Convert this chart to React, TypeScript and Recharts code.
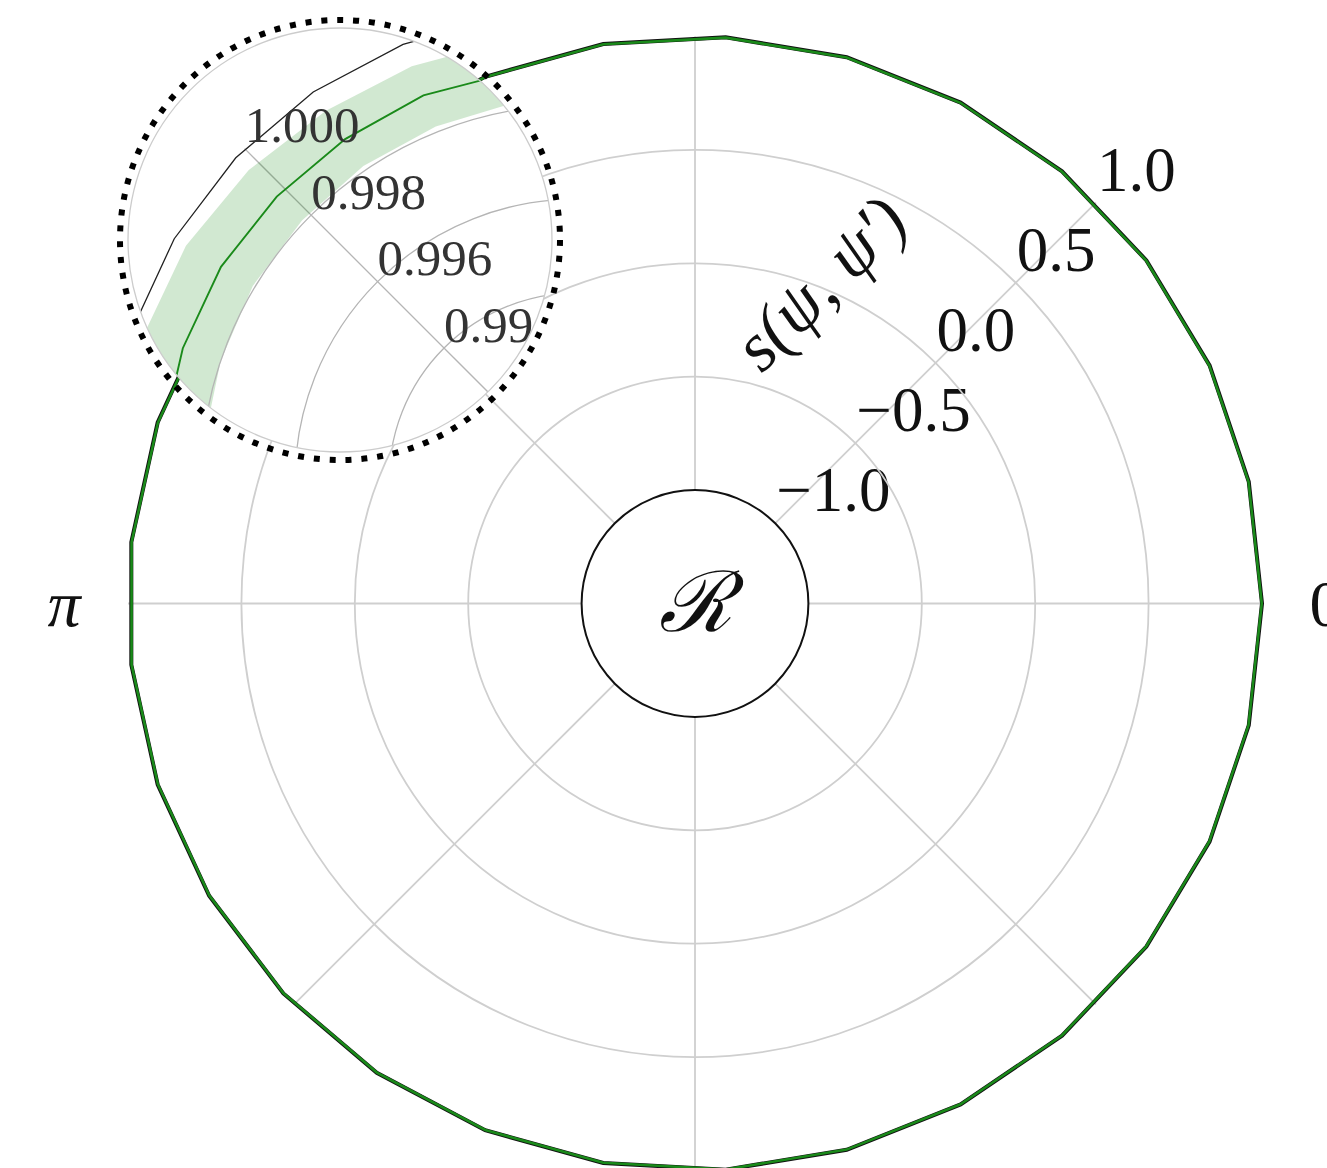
import { RadarChart, Radar, PolarGrid, PolarAngleAxis, PolarRadiusAxis } from "recharts";

// sample angles in degrees (29 points around the full turn)
const theta = [
  0, 12.41, 24.83, 37.24, 49.66, 62.07, 74.48, 86.9, 99.31, 111.72, 124.14, 136.55, 148.97, 161.38, 173.79,
  186.21, 198.62, 211.03, 223.45, 235.86, 248.28, 260.69, 273.1, 285.52, 297.93, 310.34, 322.76, 335.17, 347.59,
];

// exact similarity
const exact = [1, 1, 1, 1, 1, 1, 1, 1, 1, 1, 1, 1, 1, 1, 1, 1, 1, 1, 1, 1, 1, 1, 1, 1, 1, 1, 1, 1, 1];

// estimated similarity and its spread
const estimate = [
  0.9989, 0.99893, 0.99888, 0.99885, 0.9988, 0.99878, 0.99881, 0.99879, 0.9988, 0.99883, 0.99879, 0.9988,
  0.99884, 0.99885, 0.99887, 0.99884, 0.99882, 0.99886, 0.99889, 0.99891, 0.99887, 0.99884, 0.99886, 0.99889,
  0.99892, 0.9989, 0.99887, 0.99889, 0.99891,
];
const bandLow = [
  0.99812, 0.99815, 0.99811, 0.99809, 0.99812, 0.99814, 0.99815, 0.99816, 0.99816, 0.99812, 0.9981, 0.99806,
  0.99805, 0.998, 0.99798, 0.99801, 0.99804, 0.99806, 0.99809, 0.99811, 0.99808, 0.99806, 0.99808, 0.9981,
  0.99813, 0.99812, 0.99809, 0.9981, 0.99813,
];
const bandHigh = [
  0.99966, 0.99969, 0.99964, 0.99961, 0.99956, 0.99952, 0.9995, 0.99949, 0.99948, 0.9995, 0.99952, 0.99962,
  0.99971, 0.99973, 0.9997, 0.99966, 0.99961, 0.99964, 0.99968, 0.99971, 0.99966, 0.99962, 0.99964, 0.99967,
  0.99971, 0.99969, 0.99965, 0.99967, 0.9997,
];

// radial ticks (a ring is drawn for each one below the rim)
const mainTicks = [-1, -0.5, 0, 0.5, 1];
const lensTicks = [0.994, 0.996, 0.998, 1];

const gridAngles = [0, 45, 90, 135, 180, 225, 270, 315];
const thetaLabels: Record<number, string> = { 0: "0", 180: "\u03c0" };

const rows = theta.map((t, i) => ({
  theta: t,
  exact: exact[i],
  estimate: estimate[i],
  band: [bandLow[i], bandHigh[i]],
}));

const W = 1327;
const H = 1168;
const CX = 695;
const CY = 603.5;
const SERIF = '"Liberation Serif", "DejaVu Serif", serif';

// magnified view near the top-left of the curve
const LENS_X = 340;
const LENS_Y = 240;
const LENS_R = 212;
const LENS_CX = 577;
const LENS_CY = 481;

function ThetaTick({ payload }: any) {
  const label = thetaLabels[payload.value];
  if (label === undefined) return null;
  const rad = (payload.value * Math.PI) / 180;
  return (
    <text
      x={CX + Math.cos(rad) * 631}
      y={CY + 22}
      textAnchor="middle"
      fontFamily={SERIF}
      fontStyle={payload.value ? "italic" : "normal"}
      fontSize={66}
      fill="#111"
    >
      {label}
    </text>
  );
}

function MainRadiusTick({ x, y, payload }: any) {
  const v = payload.value;
  const r = Math.hypot(x - CX, y - CY);
  const txt = (v < 0 ? "\u2212" : "") + Math.abs(v).toFixed(1);
  const label = (
    <text x={x + 1} y={y - 12} fontFamily={SERIF} fontSize={63} fill="#111">
      {txt}
    </text>
  );
  if (v >= 1) return label;
  if (Math.abs(v + 1) > 1e-9) {
    return (
      <g>
        <circle cx={CX} cy={CY} r={r} fill="none" stroke="#cfcfcf" strokeWidth={1.8} />
        {label}
      </g>
    );
  }
  // the innermost ring holds the region symbol
  return (
    <g>
      <circle cx={CX} cy={CY} r={r} fill="#fff" stroke="#111" strokeWidth={2} />
      <text x={CX} y={CY + 27} textAnchor="middle" fontFamily={SERIF} fontStyle="italic" fontSize={84} fill="#111">
        {"\u211b"}
      </text>
      {label}
    </g>
  );
}

function LensRadiusTick({ x, y, payload }: any) {
  const v = payload.value;
  const r = Math.hypot(x - LENS_CX, y - LENS_CY);
  return (
    <g>
      {v < 1 && <circle cx={LENS_CX} cy={LENS_CY} r={r} fill="none" stroke="#b5b5b5" strokeWidth={1.3} />}
      <text x={x} y={y - 6.5} fontFamily={SERIF} fontSize={51} fill="#333">
        {v.toFixed(3)}
      </text>
    </g>
  );
}

export default function App() {
  return (
    <div style={{ position: "absolute", left: 0, top: 0, width: W, height: H, overflow: "hidden", background: "#fff" }}>
      <RadarChart
        width={W}
        height={H}
        data={rows}
        cx={CX}
        cy={CY}
        innerRadius={0}
        outerRadius={567}
        startAngle={0}
        endAngle={360}
        margin={{ top: 0, right: 0, bottom: 0, left: 0 }}
      >
        <PolarGrid gridType="circle" polarAngles={gridAngles} polarRadius={[]} stroke="#cfcfcf" strokeWidth={1.8} />
        <PolarAngleAxis
          dataKey="theta"
          type="number"
          domain={[0, 360]}
          tickCount={5}
          axisLine={false}
          tickLine={false}
          tick={ThetaTick}
        />
        <PolarRadiusAxis
          angle={45}
          type="number"
          domain={[-1.5, 1]}
          ticks={mainTicks}
          axisLine={false}
          tickLine={false}
          tick={MainRadiusTick}
        />
        <Radar dataKey="exact" stroke="#111" strokeWidth={4} fill="none" fillOpacity={0} dot={false} isAnimationActive={false} />
        <Radar dataKey="estimate" stroke="#1a8a1a" strokeWidth={2.6} fill="none" fillOpacity={0} dot={false} isAnimationActive={false} />
      </RadarChart>

      <div
        style={{
          position: "absolute",
          left: 0,
          top: 0,
          width: W,
          height: H,
          background: "#fff",
          clipPath: `circle(${LENS_R}px at ${LENS_X}px ${LENS_Y}px)`,
        }}
      >
        <RadarChart
          width={W}
          height={H}
          data={rows}
          cx={LENS_CX}
          cy={LENS_CY}
          innerRadius={0}
          outerRadius={470}
          startAngle={0}
          endAngle={360}
          margin={{ top: 0, right: 0, bottom: 0, left: 0 }}
        >
          <PolarGrid gridType="circle" polarAngles={gridAngles} polarRadius={[]} stroke="#b5b5b5" strokeWidth={1.3} />
          <PolarAngleAxis dataKey="theta" type="number" domain={[0, 360]} axisLine={false} tickLine={false} tick={false} />
          <PolarRadiusAxis
            angle={135}
            type="number"
            domain={[0.99, 1]}
            ticks={lensTicks}
            axisLine={false}
            tickLine={false}
            tick={LensRadiusTick}
          />
          <Radar dataKey="band" stroke="none" fill="#008000" fillOpacity={0.18} dot={false} isAnimationActive={false} />
          <Radar dataKey="exact" stroke="#222" strokeWidth={1.3} fill="none" fillOpacity={0} dot={false} isAnimationActive={false} />
          <Radar dataKey="estimate" stroke="#1a8a1a" strokeWidth={1.9} fill="none" fillOpacity={0} dot={false} isAnimationActive={false} />
        </RadarChart>
      </div>

      <svg width={W} height={H} style={{ position: "absolute", left: 0, top: 0, pointerEvents: "none" }}>
        <circle cx={LENS_X} cy={LENS_Y} r={LENS_R} fill="none" stroke="#cccccc" strokeWidth={1.3} />
        <circle cx={LENS_X} cy={LENS_Y} r={220} fill="none" stroke="#000" strokeWidth={6} strokeDasharray="6 9.9" />
        <text
          x={820}
          y={283}
          transform="rotate(-45 820 283)"
          textAnchor="middle"
          dominantBaseline="central"
          fontFamily={SERIF}
          fontStyle="italic"
          fontSize={70}
          fill="#111"
        >
          {"s(\u03c8, \u03c8\u2032)"}
        </text>
      </svg>
    </div>
  );
}
